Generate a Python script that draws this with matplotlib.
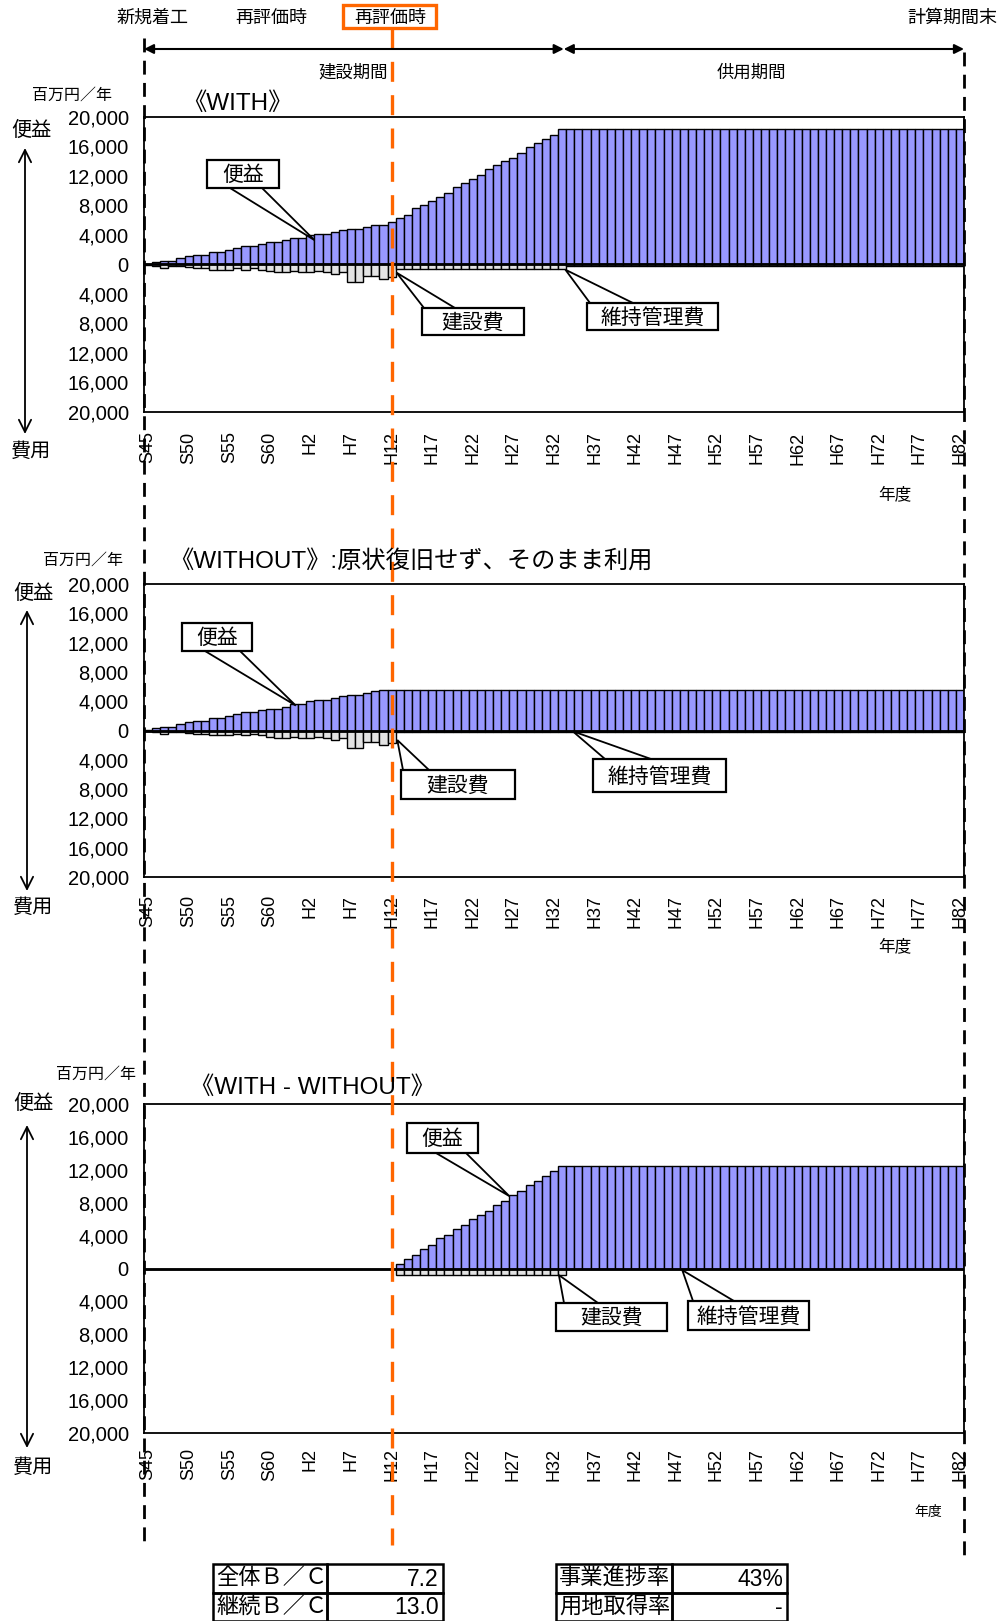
import numpy as np
import matplotlib
matplotlib.use("Agg")
import matplotlib.pyplot as plt
from matplotlib.patches import Rectangle, Polygon

plt.rcParams["font.family"] = ["Liberation Sans", "Noto Sans CJK JP"]

# 年度 S45 (1970) .. H82 (2070), 101 years
n_years = 101
year_labels = ["S45", "S50", "S55", "S60", "H2", "H7", "H12", "H17", "H22", "H27", "H32",
               "H37", "H42", "H47", "H52", "H57", "H62", "H67", "H72", "H77", "H82"]

# WITH (百万円/年)
with_benefit = ([100, 350, 540, 540, 900, 1100, 1340, 1340, 1740, 1740, 1970, 2190, 2460, 2460,
                 2770, 3000, 3000, 3260, 3580, 3580, 4020, 4160, 4160, 4380, 4650, 4870, 4870,
                 5140, 5360, 5360, 5700, 6240]
                + [6700, 7600, 8050, 8600, 9180, 9630, 10500, 11100, 11600, 12100, 12900, 13500,
                   14000, 14500, 15100, 15900, 16500, 17000, 17500, 18350]
                + [18350] * 49)
with_cost = ([80, 200, 540, 230, 230, 400, 540, 540, 680, 680, 680, 540, 680, 540, 680, 860,
              1080, 1080, 860, 1080, 1080, 860, 1080, 1300, 1080, 2350, 2350, 1580, 1580, 1940,
              1760, 600]
             + [600] * 20
             + [150] * 49)

# WITHOUT: 原状復旧せず、そのまま利用
without_benefit = with_benefit[:29] + [5500] * 72
without_cost = with_cost[:31] + [150] * 70

# WITH - WITHOUT
diff_benefit = ([0] * 31
                + [500, 1120, 1690, 2370, 2890, 3700, 4100, 4820, 5300, 6020, 6500, 6990, 7700,
                   8190, 8900, 9400, 10100, 10600, 11300, 11800, 12500]
                + [12500] * 49)
diff_cost = [0] * 31 + [800] * 21 + [100] * 49

W, H = 1000, 1621
fig = plt.figure(figsize=(10, 16.21), dpi=100)


def px_axes(top, bottom, left=144, right=964):
    return fig.add_axes([left / W, 1 - bottom / H, (right - left) / W, (bottom - top) / H])


def draw_chart(ax, benefit, cost, xpad):
    x = np.arange(n_years)
    ax.bar(x, benefit, width=1.0, color="#9999FF", edgecolor="black", linewidth=1.0, zorder=2)
    ax.bar(x, -np.array(cost), width=1.0, color="#E3E3E3", edgecolor="black", linewidth=1.0, zorder=2)
    ax.axhline(0, color="black", lw=2, zorder=3)
    ax.set_xlim(-0.5, n_years - 0.5)
    ax.set_ylim(-20000, 20000)
    yt = np.arange(-20000, 20001, 4000)
    ax.set_yticks(yt)
    ax.set_yticklabels([f"{abs(v):,}" for v in yt], fontsize=14.5)
    ax.set_xticks(np.arange(0, n_years, 5))
    ax.set_xticklabels(year_labels, rotation=90, fontsize=13)
    ax.tick_params(length=0)
    ax.tick_params(axis="y", pad=11)
    ax.tick_params(axis="x", pad=xpad)
    for s in ax.spines.values():
        s.set_linewidth(1.3)


ax1 = px_axes(117, 412)
ax2 = px_axes(584, 877)
ax3 = px_axes(1104, 1433)
draw_chart(ax1, with_benefit, with_cost, 14)
draw_chart(ax2, without_benefit, without_cost, 13)
draw_chart(ax3, diff_benefit, diff_cost, 11)

# overlay in pixel coordinates (y downwards)
ov = fig.add_axes([0, 0, 1, 1], zorder=10)
ov.set_xlim(0, W)
ov.set_ylim(H, 0)
ov.axis("off")
ov.patch.set_alpha(0)


def to_px(ax, x, y):
    dx, dy = ax.transData.transform((x, y))
    return dx, H - dy


x_left = to_px(ax1, -0.5, 0)[0]
x_right = to_px(ax1, n_years - 0.5, 0)[0]
x_eval = to_px(ax1, 30.05, 0)[0]
x_open = to_px(ax1, 51.2, 0)[0]

# header
ov.text(152, 18, "新規着工", ha="center", va="center", fontsize=13)
ov.text(271, 19, "再評価時", ha="center", va="center", fontsize=13)
ov.text(390, 18, "再評価時", ha="center", va="center", fontsize=13)
ov.add_patch(Rectangle((343, 5), 93, 23, fill=False, ec="#FF6600", lw=2.4))
ov.text(952, 18, "計算期間末", ha="center", va="center", fontsize=13)
arrow_kw = dict(arrowstyle="<|-|>", lw=1.5, color="black", mutation_scale=14, shrinkA=0, shrinkB=0)
ov.annotate("", xy=(x_left, 49), xytext=(x_open, 49), arrowprops=arrow_kw)
ov.annotate("", xy=(x_open, 49), xytext=(x_right, 49), arrowprops=arrow_kw)
ov.text(353, 72, "建設期間", ha="center", va="center", fontsize=12.5)
ov.text(751, 73, "供用期間", ha="center", va="center", fontsize=12.5)

# vertical reference lines
ov.plot([x_left, x_left], [38, 1548], color="black", lw=2, ls=(0, (5, 3)))
ov.plot([x_right, x_right], [52, 1556], color="black", lw=2, ls=(0, (5, 3)))
ov.plot([x_eval, x_eval], [28, 1545], color="#FF6600", lw=2.4, ls=(0, (6, 4)))

# titles
ov.text(182, 104, "《WITH》", ha="left", va="center", fontsize=17.5)
ov.text(169, 561, "《WITHOUT》:原状復旧せず、そのまま利用", ha="left", va="center", fontsize=17.5)
ov.text(190, 1088, "《WITH - WITHOUT》", ha="left", va="center", fontsize=17.5)

# side labels
side = [(72, 95, 31, 130, 148, 434, 451, 895, 494),
        (83, 560, 33, 593, 610, 891, 907, 895, 946),
        (96, 1074, 33, 1103, 1125, 1448, 1467, 928, 1512)]
for ux, uy, bx, by, a0, a1, cy, yx, yy in side:
    ov.text(ux, uy, "百万円／年", ha="center", va="center", fontsize=11.5)
    ov.text(bx, by, "便益", ha="center", va="center", fontsize=14.5)
    ov.text(bx, cy, "費用", ha="center", va="center", fontsize=14.5)
    ov.annotate("", xy=(bx - 6, a0), xytext=(bx - 6, a1),
                arrowprops=dict(arrowstyle="<->", lw=1.3, color="black", mutation_scale=22,
                                shrinkA=0, shrinkB=0))
    ov.text(yx, yy, "年度", ha="center", va="center", fontsize=12 if yy < 1000 else 10)


# callouts: box (pixels), two base points on the box edge, tip in data coords
def callout(ax, label, tip, box, base):
    x0, y0, x1, y1 = box
    tx, ty = to_px(ax, *tip)
    ov.add_patch(Polygon([base[0], (tx, ty), base[1]], closed=True, fc="white", ec="black",
                         lw=1.3, zorder=5))
    ov.add_patch(Rectangle((x0, y0), x1 - x0, y1 - y0, fc="white", ec="black", lw=1.6, zorder=6))
    ov.text((x0 + x1) / 2, (y0 + y1) / 2 + 1, label, ha="center", va="center", fontsize=15,
            zorder=7)


callout(ax1, "便益", (20.5, 3300), (207, 160, 279, 188), [(230, 188), (262, 188)])
callout(ax1, "建設費", (30.6, -1100), (422, 308, 524, 335), [(424, 308), (455, 308)])
callout(ax1, "維持管理費", (51.4, -700), (587, 303, 718, 330), [(590, 303), (633, 303)])
callout(ax2, "便益", (18.2, 3400), (182, 623, 252, 651), [(205, 651), (240, 651)])
callout(ax2, "建設費", (30.7, -1300), (401, 770, 515, 799), [(403, 770), (429, 770)])
callout(ax2, "維持管理費", (52.3, -100), (593, 759, 726, 792), [(605, 759), (651, 759)])
callout(ax3, "便益", (44.5, 8800), (407, 1123, 478, 1153), [(436, 1153), (466, 1153)])
callout(ax3, "建設費", (50.6, -800), (556, 1303, 667, 1331), [(564, 1303), (598, 1303)])
callout(ax3, "維持管理費", (65.8, -200), (688, 1301, 809, 1330), [(693, 1301), (734, 1301)])

# summary tables
tables = [(213, 327, 443, [("全体Ｂ／Ｃ", "7.2"), ("継続Ｂ／Ｃ", "13.0")]),
          (556, 672, 787, [("事業進捗率", "43%"), ("用地取得率", "-")])]
for x0, xs, x1, rows in tables:
    for r, (lab, val) in enumerate(rows):
        y0 = 1564 + r * 28.5
        ov.add_patch(Rectangle((x0, y0), xs - x0, 28.5, fill=False, ec="black", lw=1.8))
        ov.add_patch(Rectangle((xs, y0), x1 - xs, 28.5, fill=False, ec="black", lw=1.8))
        ov.text(x0 + 3, y0 + 15, lab, ha="left", va="center", fontsize=16)
        ov.text(x1 - 4, y0 + 15, val, ha="right", va="center", fontsize=16.5)

fig.savefig("out.png", dpi=100)
